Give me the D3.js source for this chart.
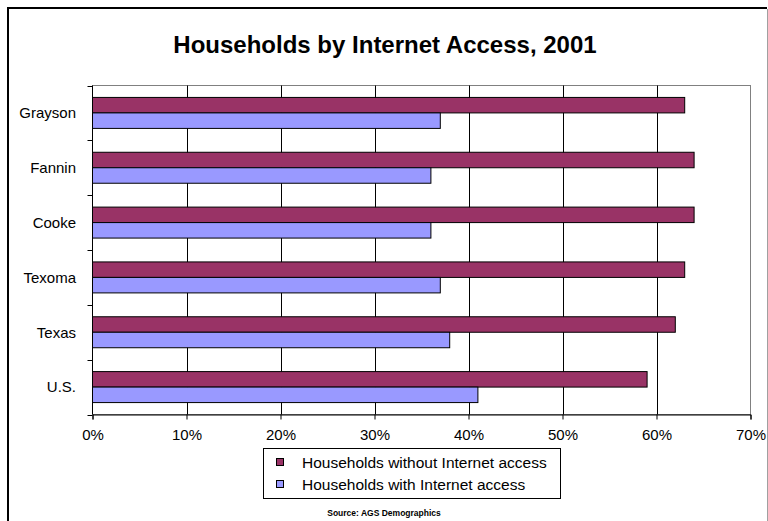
<!DOCTYPE html>
<html>
<head>
<meta charset="utf-8">
<script src="https://cdn.jsdelivr.net/npm/d3@7"></script>
<style>
  html, body { margin: 0; padding: 0; background: #fff; }
  svg { display: block; font-family: Arial, "Liberation Sans", sans-serif; }
</style>
</head>
<body>
<svg id="chart" width="768" height="521"></svg>
<script>
// Share of households by internet access, by area
const categories = ["Grayson", "Fannin", "Cooke", "Texoma", "Texas", "U.S."];
const withoutAccess = [0.63, 0.64, 0.64, 0.63, 0.62, 0.59];
const withAccess = [0.37, 0.36, 0.36, 0.37, 0.38, 0.41];
const seriesNames = ["Households without Internet access", "Households with Internet access"];
const seriesColors = ["#993366", "#9999FF"];
const xTicks = [0, 0.1, 0.2, 0.3, 0.4, 0.5, 0.6, 0.7];

const svg = d3.select("#chart");
const W = 768, H = 521;

// Outer chart frame
svg.append("line").attr("x1", 8).attr("x2", 8).attr("y1", 7.5).attr("y2", H + 5)
  .attr("stroke", "#000").attr("stroke-width", 2);
svg.append("line").attr("x1", 7).attr("x2", 767).attr("y1", 8).attr("y2", 8)
  .attr("stroke", "#000").attr("stroke-width", 2);
svg.append("line").attr("x1", 767.5).attr("x2", 767.5).attr("y1", 9).attr("y2", H + 5)
  .attr("stroke", "#a0a0a0").attr("stroke-width", 1);

// Title
svg.append("text")
  .attr("x", 385).attr("y", 53)
  .attr("text-anchor", "middle")
  .attr("font-size", 24).attr("font-weight", "bold")
  .text("Households by Internet Access, 2001");

const plot = { left: 92.5, right: 750.5, top: 85.5, bottom: 414.5 };

const x = d3.scaleLinear().domain([0, 0.7]).range([plot.left, plot.right]);
const y = d3.scaleBand().domain(categories).range([plot.top, plot.bottom])
  .paddingInner(0.435).paddingOuter(0.2175);
const ySub = d3.scaleBand().domain([0, 1]).range([0, y.bandwidth()]);

// Plot area
svg.append("rect")
  .attr("x", plot.left).attr("y", plot.top)
  .attr("width", plot.right - plot.left).attr("height", plot.bottom - plot.top)
  .attr("fill", "#fff").attr("stroke", "#808080").attr("stroke-width", 1);

// Vertical gridlines
svg.append("g").selectAll("line")
  .data(xTicks.filter(t => t > 0 && t < 0.7))
  .join("line")
  .attr("x1", d => Math.round(x(d)) + 0.5).attr("x2", d => Math.round(x(d)) + 0.5)
  .attr("y1", plot.top).attr("y2", plot.bottom)
  .attr("stroke", "#000").attr("stroke-width", 1);

// Bars
const rows = categories.map((c, i) => ({ cat: c, vals: [withoutAccess[i], withAccess[i]] }));
const groups = svg.append("g").selectAll("g")
  .data(rows).join("g")
  .attr("transform", d => `translate(0,${y(d.cat)})`);
groups.selectAll("rect")
  .data(d => d.vals.map((v, k) => ({ v, k })))
  .join("rect")
  .attr("x", x(0))
  .attr("y", d => ySub(d.k))
  .attr("width", d => x(d.v) - x(0))
  .attr("height", ySub.bandwidth())
  .attr("fill", d => seriesColors[d.k])
  .attr("stroke", "#000").attr("stroke-width", 1);

// X axis
const xAxis = d3.axisBottom(x).tickValues(xTicks).tickFormat(d3.format(".0%"))
  .tickSize(5).tickPadding(10);
const gx = svg.append("g").attr("transform", `translate(0,${plot.bottom})`).call(xAxis);
gx.select(".domain").attr("stroke", "#000");
gx.selectAll(".tick line").attr("stroke", "#000");
gx.selectAll(".tick text").attr("font-size", 15).attr("font-family", "Arial, 'Liberation Sans', sans-serif").attr("fill", "#000");

// Y axis: line, tick marks at category boundaries, labels at centres
svg.append("line").attr("x1", plot.left).attr("x2", plot.left)
  .attr("y1", plot.top).attr("y2", plot.bottom).attr("stroke", "#000");
const boundaries = d3.range(categories.length + 1).map(i => plot.top + i * y.step());
svg.append("g").selectAll("line").data(boundaries).join("line")
  .attr("x1", plot.left - 5).attr("x2", plot.left)
  .attr("y1", d => Math.round(d) + 0.5).attr("y2", d => Math.round(d) + 0.5)
  .attr("stroke", "#000");
svg.append("g").selectAll("text").data(categories).join("text")
  .attr("x", 76)
  .attr("y", d => y(d) + y.bandwidth() / 2)
  .attr("dy", "0.35em")
  .attr("text-anchor", "end")
  .attr("font-size", 15)
  .text(d => d);

// Legend
const legend = svg.append("g");
legend.append("rect").attr("x", 263.5).attr("y", 448.5).attr("width", 297).attr("height", 50)
  .attr("fill", "#fff").attr("stroke", "#000");
seriesNames.forEach((name, k) => {
  const cy = 463 + k * 22;
  legend.append("rect").attr("x", 276.5).attr("y", cy - 4.5).attr("width", 7).attr("height", 7)
    .attr("fill", seriesColors[k]).attr("stroke", "#000");
  legend.append("text").attr("x", 302).attr("y", cy).attr("dy", "0.35em")
    .attr("font-size", 15.5).text(name);
});

// Source note
svg.append("text").attr("x", 384).attr("y", 516)
  .attr("text-anchor", "middle").attr("font-size", 8.5).attr("font-weight", "bold")
  .text("Source: AGS Demographics");
</script>
</body>
</html>
